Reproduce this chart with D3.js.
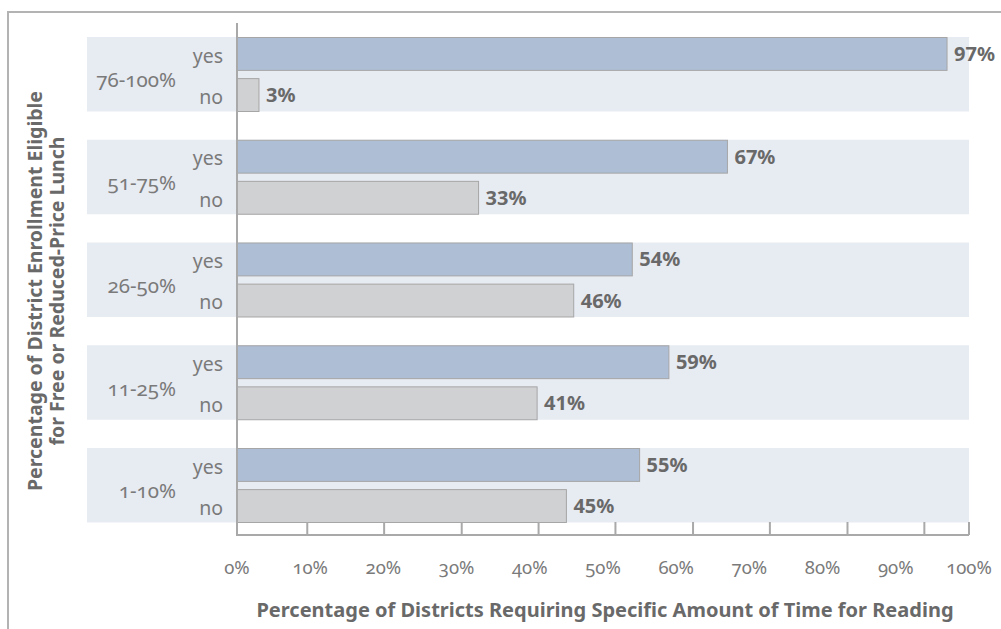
<!DOCTYPE html>
<html>
<head>
<meta charset="utf-8">
<script src="https://cdn.jsdelivr.net/npm/d3@7"></script>
<style>
  html, body { margin: 0; padding: 0; background: #ffffff; }
  svg { display: block; font-family: "Noto Sans", "Open Sans", sans-serif; }
  .onum { font-variant-numeric: oldstyle-nums; font-feature-settings: "onum" 1; }
</style>
</head>
<body>
<svg id="chart" width="1001" height="629"></svg>
<script>
// Share of districts requiring a specific amount of reading time,
// grouped by free/reduced-price lunch eligibility band.
const groups = ["76-100%", "51-75%", "26-50%", "11-25%", "1-10%"];
const answers = ["yes", "no"];
const yesValues = [97, 67, 54, 59, 55];
const noValues = [3, 33, 46, 41, 45];
const xTickValues = [0, 10, 20, 30, 40, 50, 60, 70, 80, 90, 100];
const xTickLabels = ["0%", "10%", "20%", "30%", "40%", "50%", "60%", "70%", "80%", "90%", "100%"];
// small marks along the base line
const baseMarks = [9.6, 20.1, 30.7, 41.2, 51.7, 62.3, 72.8, 83.4, 93.9];

const xTitle = "Percentage of Districts Requiring Specific Amount of Time for Reading";
const yTitleLines = ["Percentage of District Enrollment Eligible", "for Free or Reduced-Price Lunch"];

const rows = groups.map((g, i) => ({ group: g, yes: yesValues[i], no: noValues[i] }));

const svg = d3.select("#chart");
const W = 1001, H = 629;

const x = d3.scaleLinear().domain([0, 100]).range([237, 969]);
const y0 = d3.scaleBand().domain(groups).range([37, 522.5]).paddingInner(0.275).paddingOuter(0);
const y1 = d3.scaleBand().domain(answers).range([0.5, y0.bandwidth()]).paddingInner(0.2);

const fill = { yes: "#adbed5", no: "#d0d1d3" };
const textGray = "#696969";
const lightGray = "#7a7a7a";
const lineGray = "#a9a9a9";
const baseY = 535;

// outer frame (continues past the right/bottom edges)
svg.append("path")
  .attr("d", `M8,${H + 5} L8,12 L${W + 5},12`)
  .attr("fill", "none")
  .attr("stroke", "#b3b3b3")
  .attr("stroke-width", 2);

// group background bands
svg.append("g").selectAll("rect")
  .data(groups)
  .join("rect")
  .attr("x", 87)
  .attr("y", d => y0(d))
  .attr("width", x(100) - 87)
  .attr("height", y0.bandwidth())
  .attr("fill", "#e7ebf2");

// bars
const gBars = svg.append("g").selectAll("g")
  .data(rows)
  .join("g")
  .attr("transform", d => `translate(0,${y0(d.group)})`);

gBars.selectAll("rect")
  .data(d => answers.map(a => ({ key: a, value: d[a] })))
  .join("rect")
  .attr("x", x(0))
  .attr("y", d => y1(d.key))
  .attr("width", d => x(d.value) - x(0))
  .attr("height", y1.bandwidth())
  .attr("fill", d => fill[d.key])
  .attr("stroke", "#a6a6a6")
  .attr("stroke-width", 1);

// value labels
gBars.selectAll("text.val")
  .data(d => answers.map(a => ({ key: a, value: d[a] })))
  .join("text")
  .attr("class", "val")
  .attr("x", d => x(d.value) + 7)
  .attr("y", d => y1(d.key) + y1.bandwidth() / 2)
  .attr("dy", "0.35em")
  .attr("font-size", 20)
  .attr("font-weight", 700)
  .attr("fill", textGray)
  .text(d => d.value + "%");

// yes / no labels
gBars.selectAll("text.ans")
  .data(answers)
  .join("text")
  .attr("class", "ans")
  .attr("x", 223)
  .attr("y", d => y1(d) + y1.bandwidth() / 2)
  .attr("dy", "0.45em")
  .attr("text-anchor", "end")
  .attr("font-size", 19.5)
  .attr("fill", lightGray)
  .text(d => d);

// group labels
svg.append("g").selectAll("text")
  .data(groups)
  .join("text")
  .attr("class", "onum")
  .attr("x", 176)
  .attr("y", d => y0(d) + y0.bandwidth() / 2 + 7)
  .attr("dy", "0.3em")
  .attr("text-anchor", "end")
  .attr("font-size", 20.5)
  .attr("fill", lightGray)
  .text(d => d);

// axes lines
svg.append("line")
  .attr("x1", x(0)).attr("x2", x(0))
  .attr("y1", 23).attr("y2", baseY)
  .attr("stroke", lineGray).attr("stroke-width", 2);

svg.append("line")
  .attr("x1", x(0) - 1).attr("x2", x(100))
  .attr("y1", baseY).attr("y2", baseY)
  .attr("stroke", lineGray).attr("stroke-width", 2);

svg.append("g").selectAll("line")
  .data(baseMarks.concat([100]))
  .join("line")
  .attr("x1", d => x(d)).attr("x2", d => x(d))
  .attr("y1", baseY - 13).attr("y2", baseY)
  .attr("stroke", lineGray).attr("stroke-width", 2);

// x tick labels
svg.append("g").selectAll("text")
  .data(xTickValues)
  .join("text")
  .attr("class", "onum")
  .attr("x", d => x(d))
  .attr("y", 574)
  .attr("text-anchor", "middle")
  .attr("font-size", 18.5)
  .attr("fill", lightGray)
  .text((d, i) => xTickLabels[i]);

// axis titles
svg.append("text")
  .attr("x", 605)
  .attr("y", 617)
  .attr("text-anchor", "middle")
  .attr("font-size", 20)
  .attr("font-weight", 700)
  .attr("fill", textGray)
  .text(xTitle);

const yTitle = svg.append("text")
  .attr("transform", "translate(42,291) rotate(-90)")
  .attr("text-anchor", "middle")
  .attr("font-size", 19.5)
  .attr("font-weight", 700)
  .attr("fill", textGray);
yTitle.selectAll("tspan")
  .data(yTitleLines)
  .join("tspan")
  .attr("x", 0)
  .attr("dy", (d, i) => i === 0 ? 0 : 21.5)
  .text(d => d);
</script>
</body>
</html>
